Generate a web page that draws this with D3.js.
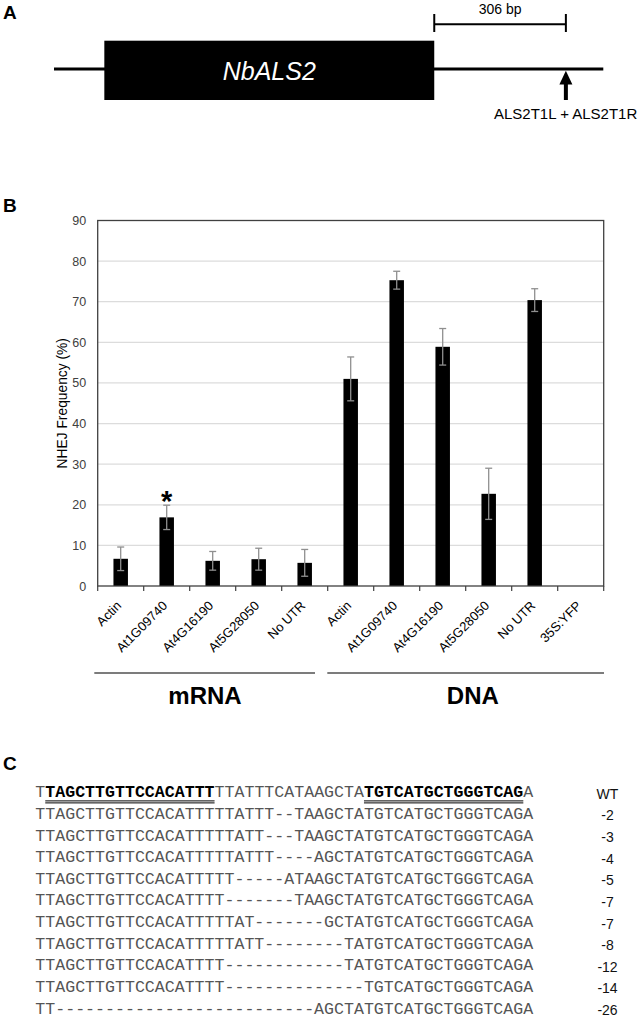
<!DOCTYPE html>
<html>
<head>
<meta charset="utf-8">
<script src="https://cdn.jsdelivr.net/npm/d3@7"></script>
<style>
  html, body { margin: 0; padding: 0; background: #fff; }
  svg { display: block; }
</style>
</head>
<body>
<script>
// ---------------- DATA ----------------
// Panel A (positions in bp, relative to the end of the NbALS2 coding region)
const geneName = "NbALS2";
const lineExtentBp = [-884, 393];
const geneExtentBp = [-767, 0];
const targetSiteBp = 306;
const scaleBarLabel = "306 bp";
const primerLabel = "ALS2T1L + ALS2T1R";

// Panel B
const categories = ["Actin", "At1G09740", "At4G16190", "At5G28050", "No UTR",
                    "Actin", "At1G09740", "At4G16190", "At5G28050", "No UTR", "35S:YFP"];
const values = [6.7, 16.9, 6.2, 6.6, 5.7, 51.0, 75.3, 58.9, 22.7, 70.4, 0];
const errors = [2.9, 3.0, 2.3, 2.7, 3.3, 5.4, 2.2, 4.5, 6.3, 2.8, 0];
const significant = [false, true, false, false, false, false, false, false, false, false, false];
const yTicks = [0, 10, 20, 30, 40, 50, 60, 70, 80, 90];
const yTitle = "NHEJ Frequency (%)";
const groupNames = ["mRNA", "DNA"];
const groupFirst = [0, 5];
const groupLast = [4, 10];

// Panel C
const sequences = [
  "TTAGCTTGTTCCACATTTTTATTTCATAAGCTATGTCATGCTGGGTCAGA",
  "TTAGCTTGTTCCACATTTTTATTT--TAAGCTATGTCATGCTGGGTCAGA",
  "TTAGCTTGTTCCACATTTTTATT---TAAGCTATGTCATGCTGGGTCAGA",
  "TTAGCTTGTTCCACATTTTTATTT----AGCTATGTCATGCTGGGTCAGA",
  "TTAGCTTGTTCCACATTTTT-----ATAAGCTATGTCATGCTGGGTCAGA",
  "TTAGCTTGTTCCACATTTT-------TAAGCTATGTCATGCTGGGTCAGA",
  "TTAGCTTGTTCCACATTTTTAT-------GCTATGTCATGCTGGGTCAGA",
  "TTAGCTTGTTCCACATTTTTATT--------TATGTCATGCTGGGTCAGA",
  "TTAGCTTGTTCCACATTTT------------TATGTCATGCTGGGTCAGA",
  "TTAGCTTGTTCCACATTTT--------------TGTCATGCTGGGTCAGA",
  "TT--------------------------AGCTATGTCATGCTGGGTCAGA"
];
const seqLabels = ["WT", "-2", "-3", "-4", "-5", "-7", "-7", "-8", "-12", "-14", "-26"];
const wtBoldSegments = [[1, 18], [33, 49]];   // [start, end) character indices (TALEN binding sites)

// ---------------- DRAWING ----------------
const W = 640, H = 1019;
const sans = "'Liberation Sans', Arial, Helvetica, sans-serif";
const mono = "'Liberation Mono', 'Courier New', monospace";

const svg = d3.select("body").append("svg")
  .attr("width", W).attr("height", H)
  .attr("viewBox", `0 0 ${W} ${H}`);

function panelLabel(txt, x, y) {
  svg.append("text").attr("x", x).attr("y", y)
    .attr("font-family", sans).attr("font-weight", "bold").attr("font-size", 19)
    .attr("fill", "#000").text(txt);
}

// ---------- Panel A ----------
panelLabel("A", 3, 18.5);
const ax = d3.scaleLinear().domain(lineExtentBp).range([54, 603.3]);
const gA = svg.append("g");
const lineY = 69;
gA.append("line").attr("x1", ax(lineExtentBp[0])).attr("x2", ax(lineExtentBp[1]))
  .attr("y1", lineY).attr("y2", lineY).attr("stroke", "#000").attr("stroke-width", 3);
gA.append("rect").attr("x", ax(geneExtentBp[0])).attr("y", 40.7)
  .attr("width", ax(geneExtentBp[1]) - ax(geneExtentBp[0])).attr("height", 59.3)
  .attr("fill", "#000");
gA.append("text").attr("x", (ax(geneExtentBp[0]) + ax(geneExtentBp[1])) / 2).attr("y", 80)
  .attr("text-anchor", "middle").attr("font-family", sans).attr("font-style", "italic")
  .attr("font-size", 25).attr("fill", "#fff").text(geneName);
// scale bar
const sbY = 24.3;
gA.append("line").attr("x1", ax(0)).attr("x2", ax(targetSiteBp)).attr("y1", sbY).attr("y2", sbY)
  .attr("stroke", "#000").attr("stroke-width", 2);
[0, targetSiteBp].forEach(b => {
  gA.append("line").attr("x1", ax(b)).attr("x2", ax(b)).attr("y1", 14).attr("y2", 32)
    .attr("stroke", "#000").attr("stroke-width", 2);
});
gA.append("text").attr("x", (ax(0) + ax(targetSiteBp)) / 2).attr("y", 13.8)
  .attr("text-anchor", "middle").attr("font-family", sans).attr("font-size", 14)
  .attr("fill", "#000").text(scaleBarLabel);
// arrow
const arX = ax(targetSiteBp);
gA.append("rect").attr("x", arX - 2).attr("y", 82).attr("width", 4).attr("height", 18).attr("fill", "#000");
gA.append("path").attr("d", `M${arX},70.7 L${arX - 6.5},84.5 L${arX + 6.5},84.5 Z`).attr("fill", "#000");
gA.append("text").attr("x", 494).attr("y", 119.3)
  .attr("font-family", sans).attr("font-size", 15).attr("fill", "#000").text(primerLabel);

// ---------- Panel B ----------
panelLabel("B", 3, 212);
const plotL = 97.7, plotR = 603.7, plotT = 220.5, plotB = 586;
const x = d3.scaleBand().domain(d3.range(categories.length)).range([plotL, plotR])
  .paddingInner(0.685).paddingOuter(0.3425);
const y = d3.scaleLinear().domain([0, 90]).range([plotB, plotT]);
const gB = svg.append("g");

// gridlines
gB.selectAll("line.grid").data(yTicks.filter(t => t > 0 && t < 90)).join("line")
  .attr("class", "grid")
  .attr("x1", plotL).attr("x2", plotR).attr("y1", d => y(d)).attr("y2", d => y(d))
  .attr("stroke", "#dcdcdc").attr("stroke-width", 1.2);

// bars
gB.selectAll("rect.bar").data(values).join("rect").attr("class", "bar")
  .attr("x", (d, i) => x(i)).attr("width", x.bandwidth())
  .attr("y", d => y(d)).attr("height", d => y(0) - y(d)).attr("fill", "#000");

// error bars
const eb = gB.selectAll("g.err").data(values.map((v, i) => ({ v, e: errors[i], i })).filter(d => d.e > 0))
  .join("g").attr("class", "err");
const cx = i => x(i) + x.bandwidth() / 2;
eb.append("line").attr("x1", d => cx(d.i)).attr("x2", d => cx(d.i))
  .attr("y1", d => y(d.v - d.e)).attr("y2", d => y(d.v + d.e))
  .attr("stroke", "#8f8f8f").attr("stroke-width", 1.3);
[-1, 1].forEach(s => {
  eb.append("line").attr("x1", d => cx(d.i) - 3.5).attr("x2", d => cx(d.i) + 3.5)
    .attr("y1", d => y(d.v + s * d.e)).attr("y2", d => y(d.v + s * d.e))
    .attr("stroke", "#8f8f8f").attr("stroke-width", 1.3);
});

// significance marks
gB.selectAll("text.sig").data(values.map((v, i) => ({ v, e: errors[i], i })).filter(d => significant[d.i]))
  .join("text").attr("class", "sig")
  .attr("x", d => cx(d.i)).attr("y", d => y(d.v + d.e) + 6)
  .attr("text-anchor", "middle").attr("font-family", sans).attr("font-weight", "bold")
  .attr("font-size", 29).attr("fill", "#000").text("*");

// frame
gB.append("rect").attr("x", plotL).attr("y", plotT).attr("width", plotR - plotL).attr("height", plotB - plotT)
  .attr("fill", "none").attr("stroke", "#404040").attr("stroke-width", 1.3);

// y axis labels
const yAxis = d3.axisLeft(y).tickValues(yTicks).tickSize(0).tickPadding(11.5);
const yg = gB.append("g").attr("transform", `translate(${plotL},0)`).call(yAxis);
yg.select(".domain").remove();
yg.selectAll("text").attr("font-family", sans).attr("font-size", 12.5).attr("fill", "#404040");

// x tick marks at category boundaries
const bounds = d3.range(categories.length + 1).map(i => plotL + i * x.step());
gB.selectAll("line.xt").data(bounds).join("line").attr("class", "xt")
  .attr("x1", d => d).attr("x2", d => d).attr("y1", plotB).attr("y2", plotB + 5)
  .attr("stroke", "#404040").attr("stroke-width", 1.2);

// x labels rotated
gB.selectAll("text.xl").data(categories).join("text").attr("class", "xl")
  .attr("transform", (d, i) => `translate(${cx(i) + 1.5},${606.5}) rotate(-45)`)
  .attr("text-anchor", "end").attr("font-family", sans).attr("font-size", 13)
  .attr("fill", "#000").text(d => d);

// y title
gB.append("text").attr("transform", `translate(67,${(plotT + plotB) / 2}) rotate(-90)`)
  .attr("text-anchor", "middle").attr("font-family", sans).attr("font-size", 13.8)
  .attr("fill", "#000").text(yTitle);

// group brackets
const groupLineY = 673;
const gStart = [plotL - 3.4, plotL + groupFirst[1] * x.step() - 0.4];
const gEnd = [plotL + (groupLast[0] + 1) * x.step() - 12.7, plotR + 0.3];
const gTextX = [205, 472.8];
groupNames.forEach((name, k) => {
  gB.append("line").attr("x1", gStart[k]).attr("x2", gEnd[k]).attr("y1", groupLineY).attr("y2", groupLineY)
    .attr("stroke", "#505050").attr("stroke-width", 1.5);
  gB.append("text").attr("x", gTextX[k]).attr("y", 704).attr("text-anchor", "middle")
    .attr("font-family", sans).attr("font-weight", "bold").attr("font-size", 24)
    .attr("fill", "#000").text(name);
});

// ---------- Panel C ----------
panelLabel("C", 3, 770);
const fs = 16.6;
const charX = d3.scaleLinear().domain([0, 50]).range([35.3, 35.3 + 50 * fs * 0.6]);
const rowY = d3.scaleLinear().domain([0, sequences.length - 1]).range([797.3, 1013.5]);
const gC = svg.append("g");

sequences.forEach((seq, r) => {
  let segs = [];
  if (r === 0) {
    let pos = 0;
    wtBoldSegments.forEach(([s, e]) => {
      if (s > pos) segs.push({ t: seq.slice(pos, s), b: false });
      segs.push({ t: seq.slice(s, e), b: true });
      pos = e;
    });
    if (pos < seq.length) segs.push({ t: seq.slice(pos), b: false });
  } else {
    segs.push({ t: seq, b: false });
  }
  const t = gC.append("text").attr("x", charX(0)).attr("y", rowY(r))
    .attr("font-family", mono).attr("font-size", fs).attr("xml:space", "preserve");
  segs.forEach(s => {
    t.append("tspan").attr("font-weight", s.b ? "bold" : "normal")
      .attr("fill", s.b ? "#000" : "#555").text(s.t);
  });
  gC.append("text").attr("x", 607.5).attr("y", rowY(r) + 1.5).attr("text-anchor", "middle")
    .attr("font-family", sans).attr("font-size", 14).attr("fill", "#111").text(seqLabels[r]);
});
// double underline under binding sites
wtBoldSegments.forEach(([s, e]) => {
  [3.6, 5.6].forEach(dy => {
    gC.append("line").attr("x1", charX(s)).attr("x2", charX(e))
      .attr("y1", rowY(0) + dy).attr("y2", rowY(0) + dy)
      .attr("stroke", "#000").attr("stroke-width", 1);
  });
});
</script>
</body>
</html>
